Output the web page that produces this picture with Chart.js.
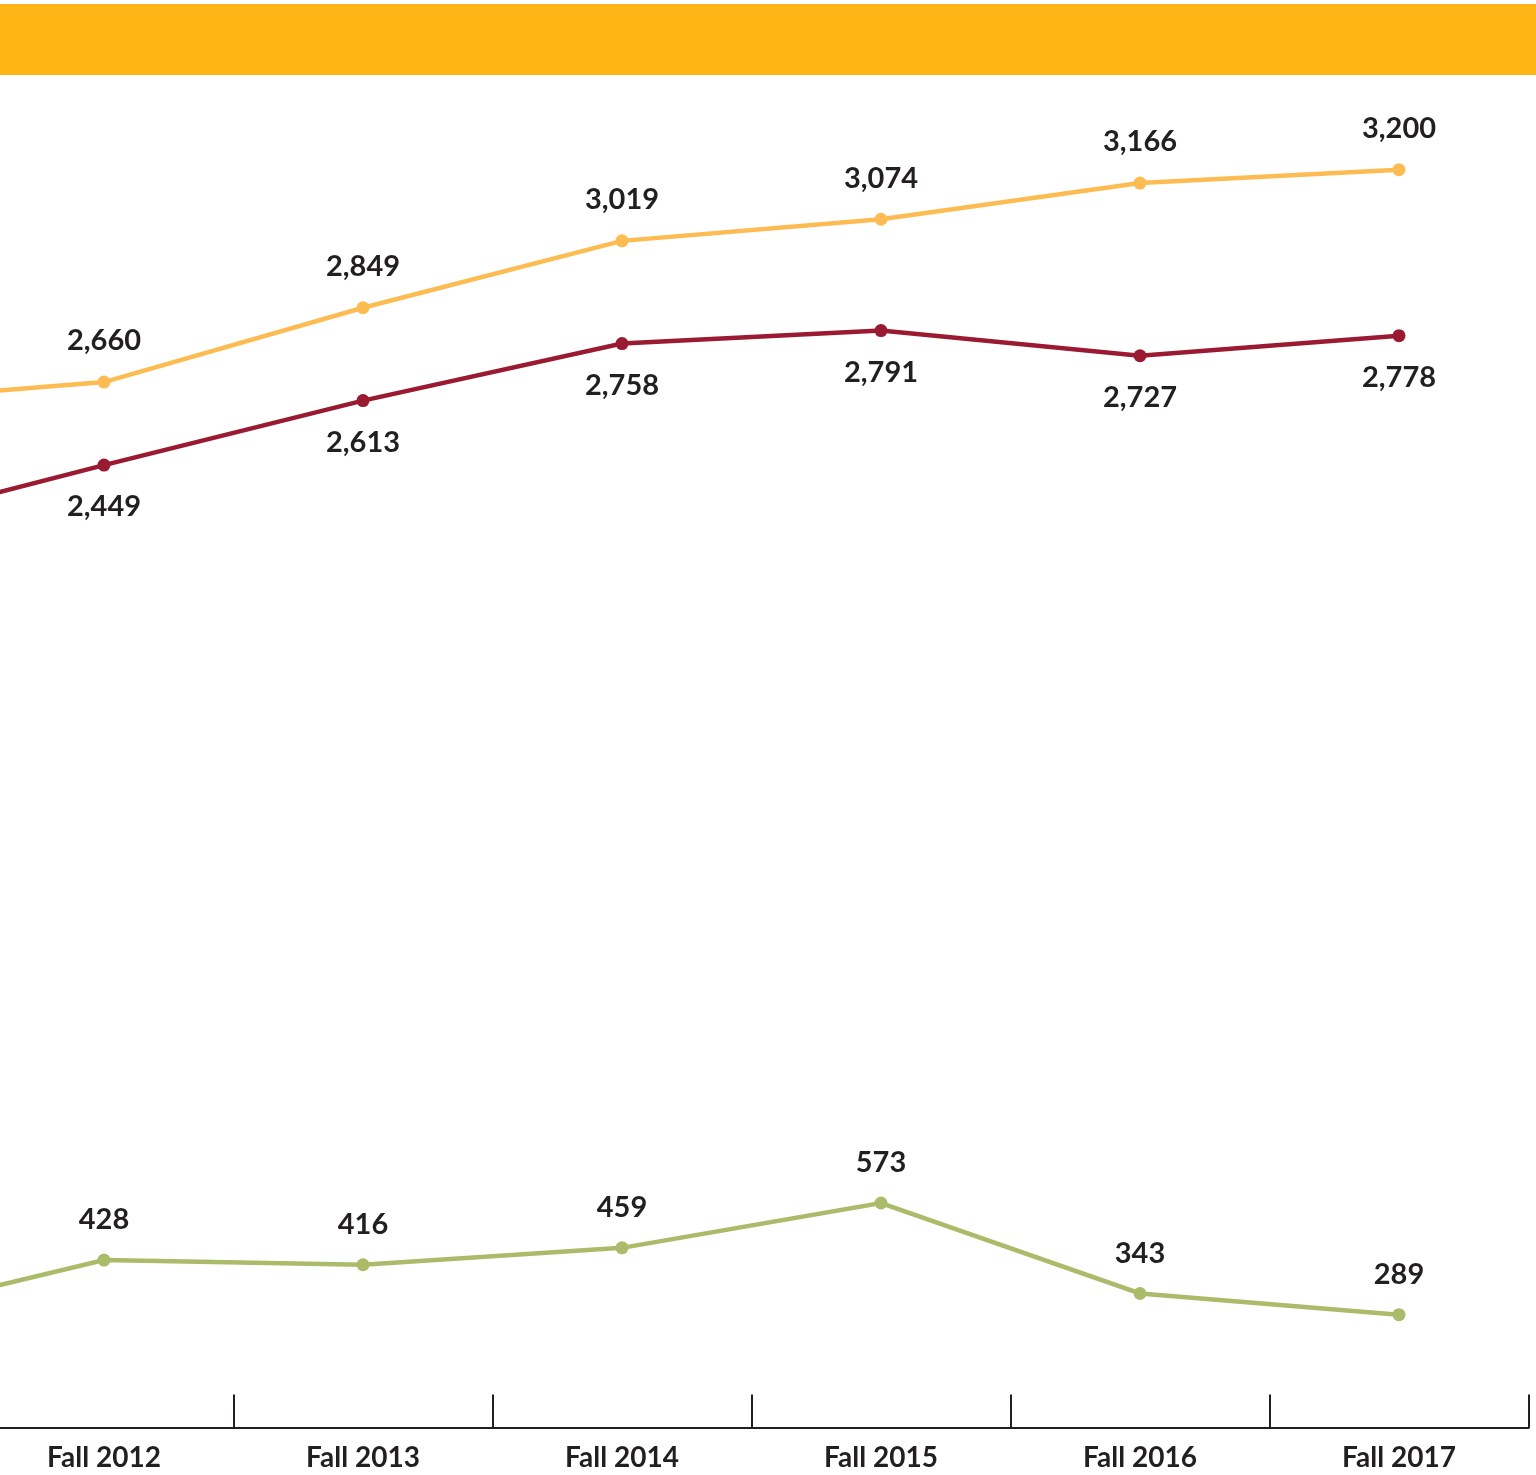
<!DOCTYPE html>
<html>
<head>
<meta charset="utf-8">
<script src="https://cdn.jsdelivr.net/npm/chart.js@4.4.1/dist/chart.umd.min.js"></script>
<style>
  html, body { margin: 0; padding: 0; background: #fff; overflow: hidden; }
  body { width: 1536px; height: 1475px; position: relative; }
  .banner { position: absolute; left: 0; top: 4px; width: 1536px; height: 71px; background: #FFB515; }
  .wrap { position: absolute; left: -291px; top: 80px; width: 1826px; height: 1408px; }
</style>
</head>
<body>
<div class="banner"></div>
<div class="wrap"><canvas id="trend"></canvas></div>
<script>
/* data (Fall 2011 sits off the left edge of the crop) */
const terms = ['Fall 2011', 'Fall 2012', 'Fall 2013', 'Fall 2014', 'Fall 2015', 'Fall 2016', 'Fall 2017'];
const orangeSeries = [2607, 2660, 2849, 3019, 3074, 3166, 3200];
const redSeries = [2279, 2449, 2613, 2758, 2791, 2727, 2778];
const greenSeries = [270, 428, 416, 459, 573, 343, 289];

const textColor = '#231F20';
const labelFont = 'bold 29px Lato, "Open Sans", sans-serif';

/* value labels above / below each point */
const pointLabels = {
  id: 'pointLabels',
  afterDatasetsDraw(chart) {
    const ctx = chart.ctx;
    ctx.save();
    ctx.font = labelFont;
    ctx.fillStyle = textColor;
    ctx.textAlign = 'center';
    ctx.textBaseline = 'middle';
    chart.data.datasets.forEach((ds, di) => {
      const meta = chart.getDatasetMeta(di);
      meta.data.forEach((pt, i) => {
        ctx.fillText(ds.data[i].toLocaleString('en-US'), pt.x, pt.y + ds.labelShift);
      });
    });
    ctx.restore();
  }
};

/* category boundary ticks, pointing up from the axis */
const boundaryTicks = {
  id: 'boundaryTicks',
  afterDraw(chart) {
    const xs = chart.scales.x;
    const ctx = chart.ctx;
    const half = (xs.getPixelForValue(1) - xs.getPixelForValue(0)) / 2;
    const bottom = chart.chartArea.bottom;
    ctx.save();
    ctx.strokeStyle = textColor;
    ctx.lineWidth = 2;
    for (let i = 0; i <= terms.length; i++) {
      const x = Math.round(xs.getPixelForValue(i) - half);
      ctx.beginPath();
      ctx.moveTo(x, bottom - 34);
      ctx.lineTo(x, bottom);
      ctx.stroke();
    }
    ctx.restore();
  }
};

function lineSet(data, color, shift) {
  return {
    data: data,
    borderColor: color,
    backgroundColor: color,
    pointBackgroundColor: color,
    pointBorderWidth: 0,
    borderWidth: 4.5,
    pointRadius: 6.5,
    tension: 0,
    fill: false,
    labelShift: shift
  };
}

const ctx = document.getElementById('trend').getContext('2d');
const chart = new Chart(ctx, {
  type: 'line',
  data: {
    labels: terms,
    datasets: [
      lineSet(orangeSeries, '#FCBC52', -41),
      lineSet(redSeries, '#9A1A31', 42),
      lineSet(greenSeries, '#AABB6A', -40)
    ]
  },
  options: {
    responsive: true,
    maintainAspectRatio: false,
    animation: false,
    layout: { padding: { top: 11, left: 0, right: 0, bottom: 0 } },
    plugins: { legend: { display: false }, tooltip: { enabled: false } },
    scales: {
      x: {
        offset: true,
        grid: { display: false, drawTicks: false },
        border: { display: true, color: textColor, width: 2 },
        ticks: {
          color: textColor,
          padding: 13,
          font: { family: 'Lato, "Open Sans", sans-serif', size: 28, weight: 'bold' }
        }
      },
      y: {
        display: false,
        min: 0,
        max: 3400
      }
    }
  },
  plugins: [pointLabels, boundaryTicks]
});
</script>
</body>
</html>
